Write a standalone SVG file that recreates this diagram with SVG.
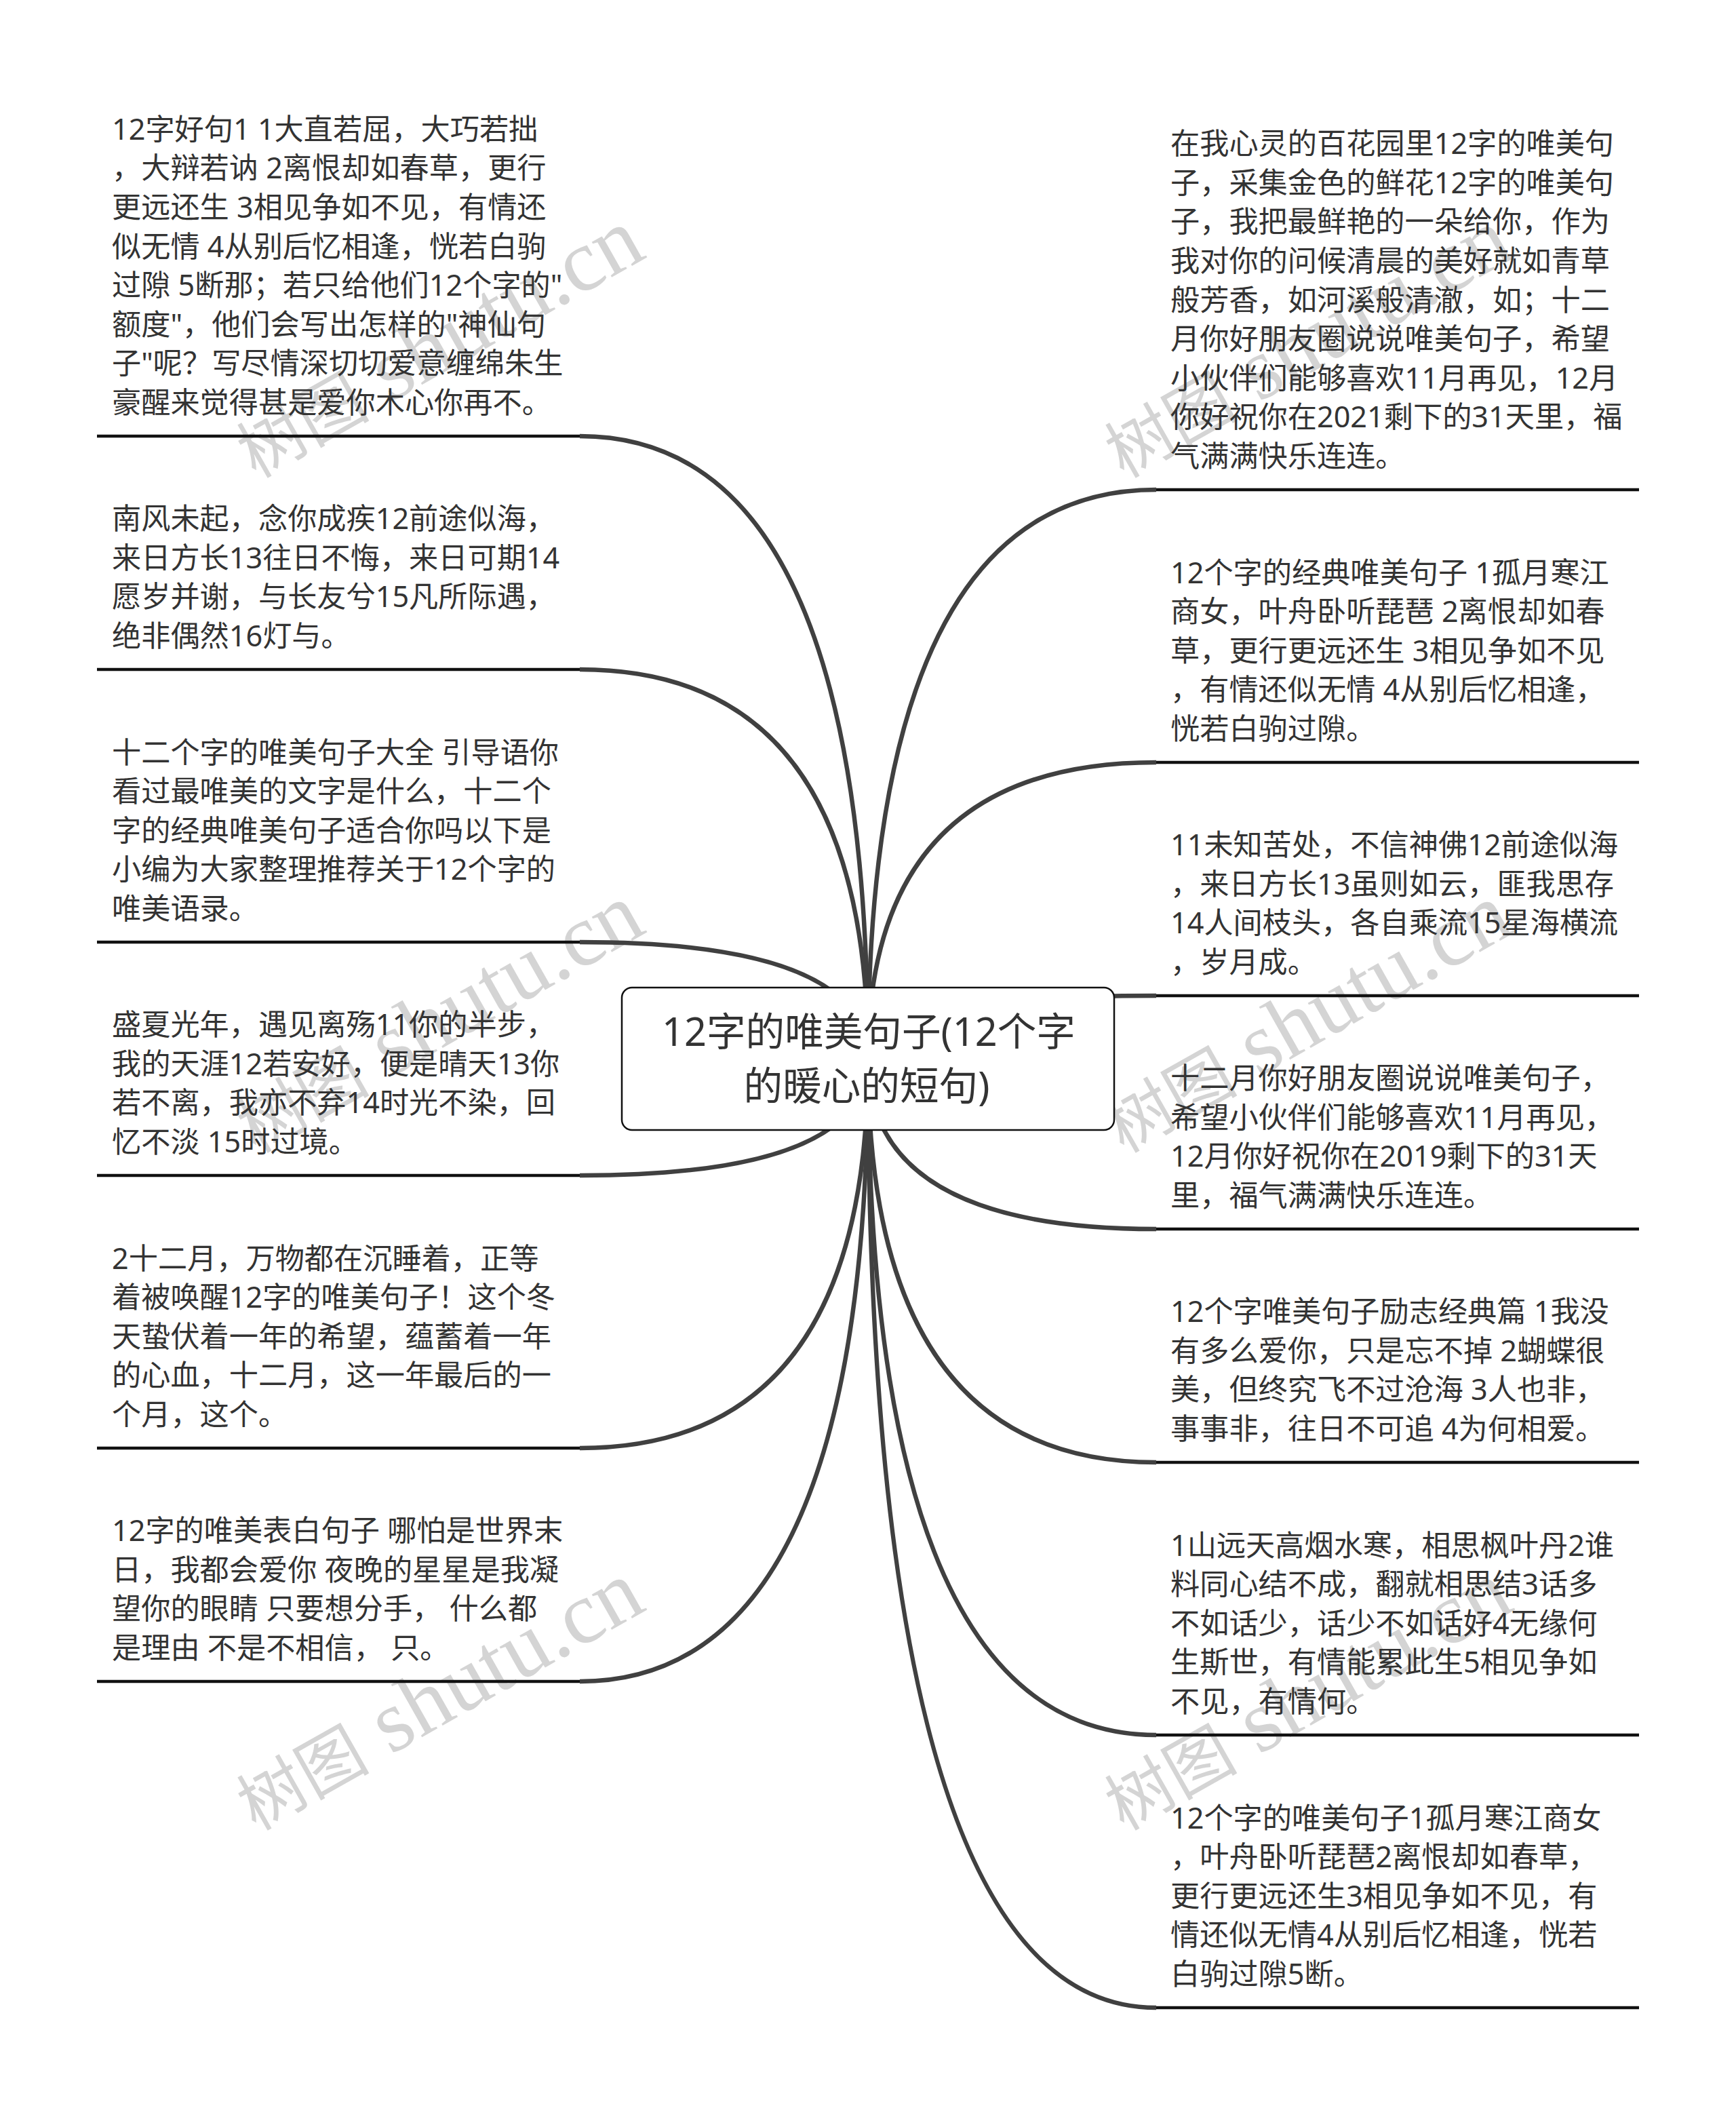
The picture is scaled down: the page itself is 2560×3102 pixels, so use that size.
<svg xmlns="http://www.w3.org/2000/svg" width="2560" height="3102" viewBox="0 0 2560 3102">
<style>
.wm{font-family:"Liberation Serif","Noto Sans CJK SC",serif;font-size:130px;fill:#d4d4d4}
.wm .cjk{font-size:98px}
.t{font-family:"Noto Sans","Noto Sans CJK SC",sans-serif;font-size:43.2px;fill:#333;transform:translateY(1px)}
.title{font-family:"Noto Sans","Noto Sans CJK SC",sans-serif;font-size:57.6px;fill:#333;text-anchor:middle}
.c{fill:none;stroke:#404040;stroke-width:6.5}
.u{fill:none;stroke:#111;stroke-width:4.5}
</style>
<rect width="2560" height="3102" fill="#fff"/>
<g id="watermarks">
<text class="wm" transform="translate(377,706) rotate(-29.5)"><tspan class="cjk">树图</tspan> shutu.cn</text>
<text class="wm" transform="translate(1657,706) rotate(-29.5)"><tspan class="cjk">树图</tspan> shutu.cn</text>
<text class="wm" transform="translate(377,1701) rotate(-29.5)"><tspan class="cjk">树图</tspan> shutu.cn</text>
<text class="wm" transform="translate(1657,1701) rotate(-29.5)"><tspan class="cjk">树图</tspan> shutu.cn</text>
<text class="wm" transform="translate(377,2700) rotate(-29.5)"><tspan class="cjk">树图</tspan> shutu.cn</text>
<text class="wm" transform="translate(1657,2700) rotate(-29.5)"><tspan class="cjk">树图</tspan> shutu.cn</text>
</g>
<g id="connectors">
<path class="c" d="M1280 1562Q1280 643 855 643"/>
<path class="c" d="M1280 1562Q1280 987 855 987"/>
<path class="c" d="M1280 1562Q1280 1389 855 1389"/>
<path class="c" d="M1280 1562Q1280 1733 855 1733"/>
<path class="c" d="M1280 1562Q1280 2135 855 2135"/>
<path class="c" d="M1280 1562Q1280 2479 855 2479"/>
<path class="c" d="M1280 1562Q1280 722 1705 722"/>
<path class="c" d="M1280 1562Q1280 1124 1705 1124"/>
<path class="c" d="M1280 1562Q1280 1468 1705 1468"/>
<path class="c" d="M1280 1562Q1280 1812 1705 1812"/>
<path class="c" d="M1280 1562Q1280 2156 1705 2156"/>
<path class="c" d="M1280 1562Q1280 2558 1705 2558"/>
<path class="c" d="M1280 1562Q1280 2960 1705 2960"/>
</g>
<g id="root"><rect x="917" y="1456" width="726" height="210" rx="15" fill="#fff" stroke="#111" stroke-width="2.5"/>
<text class="title" x="1281" y="1542">12字的唯美句子(12个字</text><text class="title" x="1278" y="1622">的暖心的短句)</text></g>
<g id="L1"><line class="u" x1="143" x2="855" y1="643" y2="643"/><text class="t"><tspan x="165" y="204.8">12字好句1 1大直若屈，大巧若拙</tspan><tspan x="165" y="262.4">，大辩若讷 2离恨却如春草，更行</tspan><tspan x="165" y="320">更远还生 3相见争如不见，有情还</tspan><tspan x="165" y="377.6">似无情 4从别后忆相逢，恍若白驹</tspan><tspan x="165" y="435.2">过隙 5断那；若只给他们12个字的"</tspan><tspan x="165" y="492.8">额度"，他们会写出怎样的"神仙句</tspan><tspan x="165" y="550.4">子"呢？写尽情深切切爱意缠绵朱生</tspan><tspan x="165" y="608">豪醒来觉得甚是爱你木心你再不。</tspan></text></g>
<g id="L2"><line class="u" x1="143" x2="855" y1="987" y2="987"/><text class="t"><tspan x="165" y="779.2">南风未起，念你成疾12前途似海，</tspan><tspan x="165" y="836.8">来日方长13往日不悔，来日可期14</tspan><tspan x="165" y="894.4">愿岁并谢，与长友兮15凡所际遇，</tspan><tspan x="165" y="952">绝非偶然16灯与。</tspan></text></g>
<g id="L3"><line class="u" x1="143" x2="855" y1="1389" y2="1389"/><text class="t"><tspan x="165" y="1123.6">十二个字的唯美句子大全 引导语你</tspan><tspan x="165" y="1181.2">看过最唯美的文字是什么，十二个</tspan><tspan x="165" y="1238.8">字的经典唯美句子适合你吗以下是</tspan><tspan x="165" y="1296.4">小编为大家整理推荐关于12个字的</tspan><tspan x="165" y="1354">唯美语录。</tspan></text></g>
<g id="L4"><line class="u" x1="143" x2="855" y1="1733" y2="1733"/><text class="t"><tspan x="165" y="1525.2">盛夏光年，遇见离殇11你的半步，</tspan><tspan x="165" y="1582.8">我的天涯12若安好，便是晴天13你</tspan><tspan x="165" y="1640.4">若不离，我亦不弃14时光不染，回</tspan><tspan x="165" y="1698">忆不淡 15时过境。</tspan></text></g>
<g id="L5"><line class="u" x1="143" x2="855" y1="2135" y2="2135"/><text class="t"><tspan x="165" y="1869.6">2十二月，万物都在沉睡着，正等</tspan><tspan x="165" y="1927.2">着被唤醒12字的唯美句子！这个冬</tspan><tspan x="165" y="1984.8">天蛰伏着一年的希望，蕴蓄着一年</tspan><tspan x="165" y="2042.4">的心血，十二月，这一年最后的一</tspan><tspan x="165" y="2100">个月，这个。</tspan></text></g>
<g id="L6"><line class="u" x1="143" x2="855" y1="2479" y2="2479"/><text class="t"><tspan x="165" y="2271.2">12字的唯美表白句子 哪怕是世界末</tspan><tspan x="165" y="2328.8">日，我都会爱你 夜晚的星星是我凝</tspan><tspan x="165" y="2386.4">望你的眼睛 只要想分手， 什么都</tspan><tspan x="165" y="2444">是理由 不是不相信， 只。</tspan></text></g>
<g id="R1"><line class="u" x1="1705" x2="2417" y1="722" y2="722"/><text class="t"><tspan x="1726" y="226.2">在我心灵的百花园里12字的唯美句</tspan><tspan x="1726" y="283.8">子，采集金色的鲜花12字的唯美句</tspan><tspan x="1726" y="341.4">子，我把最鲜艳的一朵给你，作为</tspan><tspan x="1726" y="399">我对你的问候清晨的美好就如青草</tspan><tspan x="1726" y="456.6">般芳香，如河溪般清澈，如；十二</tspan><tspan x="1726" y="514.2">月你好朋友圈说说唯美句子，希望</tspan><tspan x="1726" y="571.8">小伙伴们能够喜欢11月再见，12月</tspan><tspan x="1726" y="629.4">你好祝你在2021剩下的31天里，福</tspan><tspan x="1726" y="687">气满满快乐连连。</tspan></text></g>
<g id="R2"><line class="u" x1="1705" x2="2417" y1="1124" y2="1124"/><text class="t"><tspan x="1726" y="858.6">12个字的经典唯美句子 1孤月寒江</tspan><tspan x="1726" y="916.2">商女，叶舟卧听琵琶 2离恨却如春</tspan><tspan x="1726" y="973.8">草，更行更远还生 3相见争如不见</tspan><tspan x="1726" y="1031.4">，有情还似无情 4从别后忆相逢，</tspan><tspan x="1726" y="1089">恍若白驹过隙。</tspan></text></g>
<g id="R3"><line class="u" x1="1705" x2="2417" y1="1468" y2="1468"/><text class="t"><tspan x="1726" y="1260.2">11未知苦处，不信神佛12前途似海</tspan><tspan x="1726" y="1317.8">，来日方长13虽则如云，匪我思存</tspan><tspan x="1726" y="1375.4">14人间枝头，各自乘流15星海横流</tspan><tspan x="1726" y="1433">，岁月成。</tspan></text></g>
<g id="R4"><line class="u" x1="1705" x2="2417" y1="1812" y2="1812"/><text class="t"><tspan x="1726" y="1604.2">十二月你好朋友圈说说唯美句子，</tspan><tspan x="1726" y="1661.8">希望小伙伴们能够喜欢11月再见，</tspan><tspan x="1726" y="1719.4">12月你好祝你在2019剩下的31天</tspan><tspan x="1726" y="1777">里，福气满满快乐连连。</tspan></text></g>
<g id="R5"><line class="u" x1="1705" x2="2417" y1="2156" y2="2156"/><text class="t"><tspan x="1726" y="1948.2">12个字唯美句子励志经典篇 1我没</tspan><tspan x="1726" y="2005.8">有多么爱你，只是忘不掉 2蝴蝶很</tspan><tspan x="1726" y="2063.4">美，但终究飞不过沧海 3人也非，</tspan><tspan x="1726" y="2121">事事非，往日不可追 4为何相爱。</tspan></text></g>
<g id="R6"><line class="u" x1="1705" x2="2417" y1="2558" y2="2558"/><text class="t"><tspan x="1726" y="2292.6">1山远天高烟水寒，相思枫叶丹2谁</tspan><tspan x="1726" y="2350.2">料同心结不成，翻就相思结3话多</tspan><tspan x="1726" y="2407.8">不如话少，话少不如话好4无缘何</tspan><tspan x="1726" y="2465.4">生斯世，有情能累此生5相见争如</tspan><tspan x="1726" y="2523">不见，有情何。</tspan></text></g>
<g id="R7"><line class="u" x1="1705" x2="2417" y1="2960" y2="2960"/><text class="t"><tspan x="1726" y="2694.6">12个字的唯美句子1孤月寒江商女</tspan><tspan x="1726" y="2752.2">，叶舟卧听琵琶2离恨却如春草，</tspan><tspan x="1726" y="2809.8">更行更远还生3相见争如不见，有</tspan><tspan x="1726" y="2867.4">情还似无情4从别后忆相逢，恍若</tspan><tspan x="1726" y="2925">白驹过隙5断。</tspan></text></g>
</svg>
